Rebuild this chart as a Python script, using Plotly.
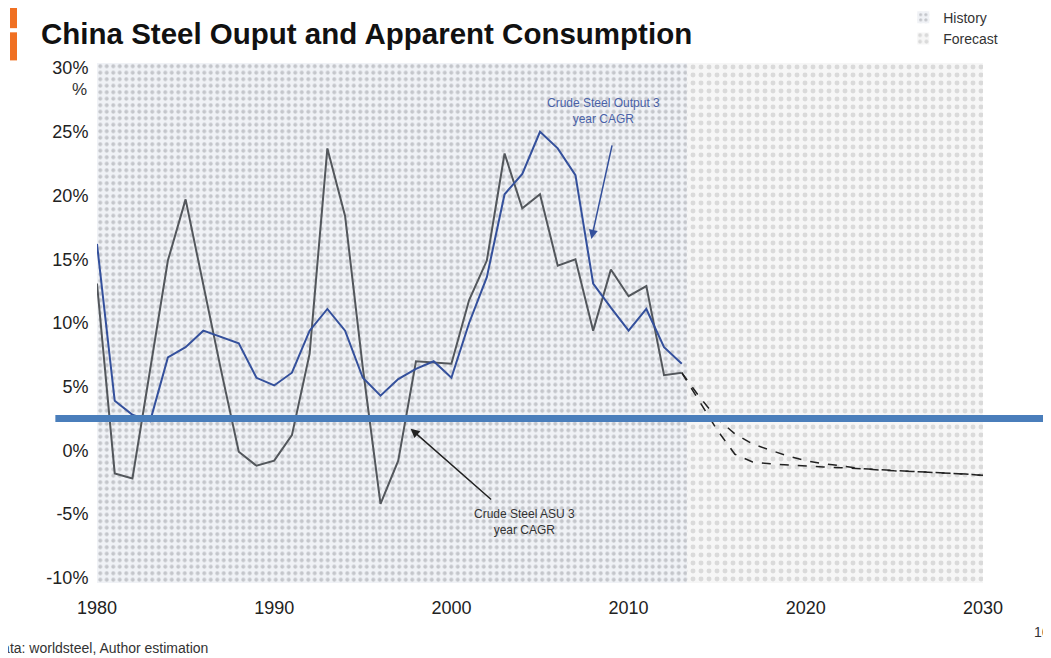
import plotly.graph_objects as go

# history, 3 year CAGR (%)
years_hist = list(range(1980, 2014))
output_cagr = [16.2, 3.9, 2.8, 2.3, 7.3, 8.1, 9.4, 8.9, 8.4, 5.7, 5.1, 6.1, 9.4, 11.1, 9.4, 5.7, 4.3,
               5.6, 6.4, 7.0, 5.7, 10.0, 13.6, 20.1, 21.7, 25.0, 23.7, 21.6, 13.1, 11.2, 9.4, 11.1, 8.1, 6.8]
asu_cagr = [13.1, -1.8, -2.2, 6.5, 14.9, 19.7, 13.0, 6.3, -0.1, -1.2, -0.8, 1.2, 7.6, 23.7, 18.4, 6.5, -4.2,
            -0.8, 7.0, 6.9, 6.8, 11.8, 14.9, 23.3, 19.0, 20.1, 14.5, 15.0, 9.4, 14.2, 12.1, 12.9, 5.9, 6.1]

# forecast
years_fc = list(range(2013, 2031))
fc_upper = [6.1, 4.2, 2.5, 1.3, 0.5, 0.0, -0.45, -0.8, -1.05, -1.2, -1.4, -1.5, -1.6, -1.65, -1.7, -1.8, -1.85, -1.95]
fc_lower = [6.1, 3.8, 1.6, -0.3, -0.9, -1.05, -1.15, -1.25, -1.3, -1.35, -1.45, -1.5, -1.6, -1.65, -1.7, -1.8, -1.85, -1.95]

x_start, hist_end, x_end = 1980, 2013.3, 2030
y_lo, y_hi = -10.4, 30.4
x_ticks = [1980, 1990, 2000, 2010, 2020, 2030]
y_ticks = [-10, -5, 0, 5, 10, 15, 20, 25, 30]
y_labels = ["-10%", "-5%", "0%", "5%", "10%", "15%", "20%", "25%", "30%"]

FONT = "Liberation Sans, Arial, sans-serif"
BLUE = "#34509c"
GREY = "#53575c"

fig = go.Figure()

# shaded periods
fig.add_trace(go.Bar(
    x=[(x_start + hist_end) / 2], y=[y_hi - y_lo], base=[y_lo], width=[hist_end - x_start],
    name="History", hoverinfo="skip",
    marker=dict(color="#f0f2f6", line_width=0,
                pattern=dict(shape=".", fgcolor="#979a9f", bgcolor="#f0f2f6", size=6.5, solidity=0.3))))
fig.add_trace(go.Bar(
    x=[(hist_end + x_end) / 2], y=[y_hi - y_lo], base=[y_lo], width=[x_end - hist_end],
    name="Forecast", hoverinfo="skip",
    marker=dict(color="#f6f6f6", line_width=0,
                pattern=dict(shape=".", fgcolor="#bdbdbd", bgcolor="#f6f6f6", size=8, solidity=0.3))))

fig.add_trace(go.Scatter(x=years_fc, y=fc_upper, mode="lines", showlegend=False,
                         line=dict(color="#222222", width=1.5, dash="dash")))
fig.add_trace(go.Scatter(x=years_fc, y=fc_lower, mode="lines", showlegend=False,
                         line=dict(color="#222222", width=1.5, dash="dash")))
fig.add_trace(go.Scatter(x=years_hist, y=asu_cagr, mode="lines", showlegend=False,
                         line=dict(color=GREY, width=2)))
fig.add_trace(go.Scatter(x=years_hist, y=output_cagr, mode="lines", showlegend=False,
                         line=dict(color=BLUE, width=2)))

# labels + arrows
fig.add_annotation(x=2008.6, y=26.6, text="Crude Steel Output 3<br>year CAGR", showarrow=False,
                   font=dict(family=FONT, size=12, color="#4a62a8"))
fig.add_annotation(x=2007.9, y=16.6, text="", showarrow=True, ax=21, ay=-95,
                   arrowhead=2, arrowsize=1.2, arrowwidth=1.5, arrowcolor=BLUE)
fig.add_annotation(x=2004.15, y=-5.65, text="Crude Steel ASU 3<br>year CAGR", showarrow=False,
                   font=dict(family=FONT, size=12, color="#333333"))
fig.add_annotation(x=1997.7, y=1.7, text="", showarrow=True, ax=82, ay=72,
                   arrowhead=2, arrowsize=1.2, arrowwidth=1.5, arrowcolor="#222222")

# page decoration
fig.add_annotation(xref="paper", yref="paper", x=-0.03, y=0.972, text="%", showarrow=False,
                   font=dict(family=FONT, size=17, color="#333333"))
fig.add_annotation(xref="paper", yref="paper", x=-0.066, y=1.056, xanchor="left", yanchor="middle",
                   text="<b>China Steel Ouput and Apparent Consumption</b>", showarrow=False,
                   font=dict(family=FONT, size=29.5, color="#111111"))
fig.add_annotation(xref="paper", yref="paper", x=-0.121, y=-0.125, xanchor="left", yanchor="middle",
                   text="Data: worldsteel, Author estimation", showarrow=False,
                   font=dict(family=FONT, size=14, color="#333333"))
fig.add_annotation(xref="paper", yref="paper", x=1.055, y=-0.095, xanchor="left", yanchor="middle",
                   text="16", showarrow=False, font=dict(family=FONT, size=14, color="#333333"))

fig.add_shape(type="rect", xref="paper", yref="paper", x0=-0.0982, x1=-0.0903, y0=1.067, y1=1.11,
              fillcolor="#f07022", line_width=0)
fig.add_shape(type="rect", xref="paper", yref="paper", x0=-0.0982, x1=-0.0903, y0=1.005, y1=1.059,
              fillcolor="#f07022", line_width=0)
fig.add_shape(type="line", xref="paper", yref="y", x0=-0.047, x1=1.08, y0=2.5, y1=2.5,
              line=dict(color="#4a7ebb", width=7))

# page body adds 8px offset, so the figure is 8px smaller and margins shifted
fig.update_layout(
    width=1043, height=650,
    margin=dict(l=89, r=68, t=55, b=75, autoexpand=False),
    paper_bgcolor="white", plot_bgcolor="white",
    barmode="overlay", bargap=0,
    font=dict(family=FONT, color="#222222"),
    legend=dict(x=0.91, y=1.118, xanchor="left", yanchor="top", bgcolor="rgba(0,0,0,0)",
                font=dict(family=FONT, size=14, color="#333333"), tracegroupgap=0, itemwidth=30),
    xaxis=dict(range=[x_start, x_end], tickvals=x_ticks, showgrid=False, zeroline=False,
               showline=False, ticks="outside", ticklen=8, tickcolor="rgba(0,0,0,0)",
               tickfont=dict(size=18)),
    yaxis=dict(range=[y_lo, y_hi], tickvals=y_ticks, ticktext=y_labels, showgrid=False,
               zeroline=False, showline=False, ticks="outside", ticklen=4,
               tickcolor="rgba(0,0,0,0)", tickfont=dict(size=18)),
)

fig.write_html("out.html")
